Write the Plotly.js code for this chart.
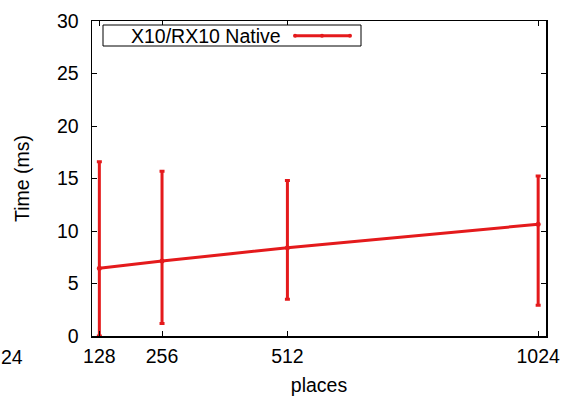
<!DOCTYPE html>
<html><head><meta charset="utf-8">
<script src="https://cdn.plot.ly/plotly-3.0.1.min.js"></script>
<style>html,body{margin:0;padding:0;background:#fff}#plot{width:564px;height:399px}</style>
</head><body><div id="plot"></div>
<script>
const places = [128, 256, 512, 1024];
const timeMean = [6.45, 7.14, 8.4, 10.64];
const errPlus = [10.15, 8.56, 6.4, 4.6];
const errMinus = [6.45, 5.94, 4.9, 7.72];
const xTicks = [128, 256, 512, 1024];
const yTicks = [0, 5, 10, 15, 20, 25, 30];
const seriesName = 'X10/RX10 Native';
const red = '#e41a1c';
const W = 564, H = 399, L = 92, R = 18, T = 21, B = 63;
const pw = W - L - R, ph = H - T - B;
function px(x){ return (x - L) / pw; }
function py(y){ return (H - B - y) / ph; }
const font = {family: 'Liberation Sans, Arial, sans-serif', size: 19.5, color: '#000'};
const trace = {
  x: places, y: timeMean, type: 'scatter', mode: 'lines+markers', name: seriesName,
  line: {color: red, width: 3}, marker: {color: red, size: 5},
  error_y: {type: 'data', symmetric: false, array: errPlus, arrayminus: errMinus,
    color: red, thickness: 3, width: 2.5},
  cliponaxis: true
};
const legendMarks = [295, 322, 350];
const shapes = [
  {type: 'rect', xref: 'paper', yref: 'paper', x0: px(103), x1: px(361), y0: py(25), y1: py(46),
    line: {color: '#000', width: 1}, fillcolor: '#fff'},
  {type: 'line', xref: 'paper', yref: 'paper', x0: px(295), x1: px(350), y0: py(35.7), y1: py(35.7),
    line: {color: red, width: 3}}
];
legendMarks.forEach(function(p){
  shapes.push({type: 'circle', xref: 'paper', yref: 'paper', x0: px(p - 2), x1: px(p + 2), y0: py(33.7), y1: py(37.7),
    line: {color: red, width: 0}, fillcolor: red});
});
const layout = {
  width: W, height: H, margin: {l: L, r: R, t: T, b: B},
  paper_bgcolor: '#fff', plot_bgcolor: '#fff', showlegend: false, font: font,
  xaxis: {range: [113, 1040], tickvals: xTicks, ticktext: xTicks.map(String),
    ticks: 'inside', ticklen: 5, tickwidth: 1, tickcolor: '#000', showline: true, linecolor: '#000', linewidth: 1.5,
    mirror: 'ticks', showgrid: false, zeroline: false, tickfont: font, ticklabelstandoff: 2,
    title: {text: 'places', font: font, standoff: 12}},
  yaxis: {range: [0, 30], tickvals: yTicks, ticks: 'inside', ticklen: 5, tickwidth: 1, tickcolor: '#000',
    showline: true, linecolor: '#000', linewidth: 1.5, mirror: 'ticks', showgrid: false, zeroline: false,
    tickfont: font, ticklabelstandoff: 8, title: {text: 'Time (ms)', font: font, standoff: 22}},
  shapes: shapes,
  annotations: [
    {text: seriesName, xref: 'paper', yref: 'paper', x: px(283), y: py(35.7), xanchor: 'right', yanchor: 'middle',
      showarrow: false, font: font},
    {text: '24', xref: 'paper', yref: 'paper', x: px(0), y: py(357), xanchor: 'left', yanchor: 'middle',
      showarrow: false, font: font, borderpad: 0}
  ]
};
Plotly.newPlot('plot', [trace], layout, {displayModeBar: false, staticPlot: true});
</script></body></html>
